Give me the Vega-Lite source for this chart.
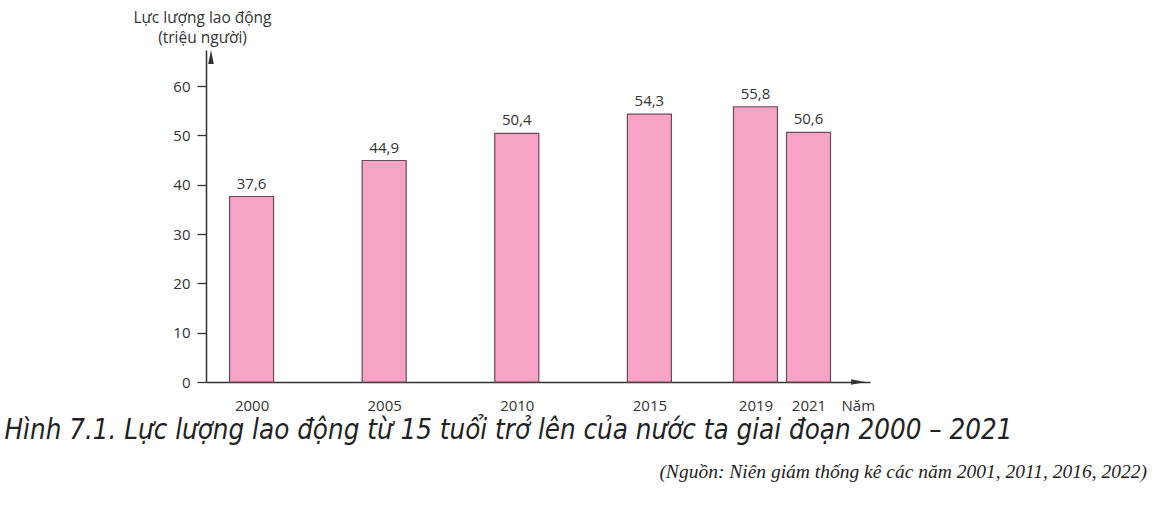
{
  "$schema": "https://vega.github.io/schema/vega-lite/v6.json",
  "width": 664,
  "height": 332,
  "autosize": {"type": "none"},
  "padding": {"left": 206, "top": 50, "right": 289, "bottom": 127},
  "background": "white",
  "config": {
    "view": {"stroke": null},
    "locale": {"number": {"decimal": ",", "thousands": ".", "grouping": [3], "currency": ["", " ₫"]}}
  },
  "title": {
    "text": "(Nguồn: Niên giám thống kê các năm 2001, 2011, 2016, 2022)",
    "orient": "bottom",
    "anchor": "end",
    "frame": "group",
    "dx": 277,
    "offset": 34,
    "baseline": "alphabetic",
    "font": "Liberation Serif",
    "fontStyle": "italic",
    "fontWeight": "normal",
    "fontSize": 19.5,
    "color": "#222222"
  },
  "data": {"values": [
    {"year": 2000, "value": 37.6},
    {"year": 2005, "value": 44.9},
    {"year": 2010, "value": 50.4},
    {"year": 2015, "value": 54.3},
    {"year": 2019, "value": 55.8},
    {"year": 2021, "value": 50.6}
  ]},
  "resolve": {"axis": {"x": "independent", "y": "independent"}},
  "layer": [
    {
      "mark": {"type": "bar", "width": 44, "fill": "#f7a3c6", "stroke": "#6b4a57", "strokeWidth": 1.2},
      "encoding": {
        "x": {
          "field": "year", "type": "quantitative",
          "scale": {"domain": [1998.47, 2023.13], "nice": false, "zero": false},
          "axis": {
            "orient": "bottom",
            "values": [2000, 2005, 2010, 2015, 2019, 2021],
            "format": "d",
            "ticks": false, "grid": false,
            "domain": true, "domainColor": "#333333", "domainWidth": 1.5,
            "labelPadding": 16, "labelFontSize": 15, "labelColor": "#333333", "labelFont": "Open Sans",
            "labelFlush": false, "labelOverlap": false,
            "title": "Năm", "titleX": 635, "titleY": 28, "titleAlign": "left", "titleBaseline": "alphabetic",
            "titleAngle": 0, "titleFont": "Open Sans", "titleFontWeight": "normal", "titleFontSize": 15, "titleColor": "#333333"
          }
        },
        "y": {
          "field": "value", "type": "quantitative",
          "scale": {"domain": [0, 67.3], "nice": false},
          "axis": {
            "orient": "left",
            "values": [0, 10, 20, 30, 40, 50, 60],
            "grid": false,
            "tickSize": 9, "tickColor": "#333333", "tickWidth": 1.3,
            "domainColor": "#333333", "domainWidth": 1.5,
            "labelPadding": 7, "labelFontSize": 15, "labelColor": "#333333", "labelFont": "Open Sans",
            "title": ["Lực lượng lao động", "(triệu người)"],
            "titleAngle": 0, "titleX": -4, "titleY": -28, "titleAlign": "center", "titleBaseline": "alphabetic",
            "titleFont": "Open Sans", "titleFontWeight": "normal", "titleFontSize": 15.5, "titleLineHeight": 20, "titleColor": "#333333"
          }
        }
      }
    },
    {
      "mark": {"type": "text", "dy": -8, "baseline": "alphabetic", "fontSize": 15, "font": "Open Sans", "color": "#333333"},
      "encoding": {
        "x": {
          "field": "year", "type": "quantitative",
          "scale": {"domain": [1998.47, 2023.13], "nice": false, "zero": false},
          "axis": {
            "orient": "bottom",
            "domain": false, "ticks": false, "labels": false, "grid": false,
            "title": "Hình 7.1. Lực lượng lao động từ 15 tuổi trở lên của nước ta giai đoạn 2000 – 2021",
            "titleX": -202, "titleY": 56, "titleAlign": "left", "titleBaseline": "alphabetic", "titleAngle": 0,
            "titleFont": "Liberation Sans Narrow, DejaVu Sans Condensed, sans-serif", "titleFontStyle": "italic",
            "titleFontWeight": "normal", "titleFontSize": 27.5, "titleColor": "#222222", "titleLimit": 1300
          }
        },
        "y": {
          "field": "value", "type": "quantitative",
          "scale": {"domain": [0, 67.3], "nice": false},
          "axis": null
        },
        "text": {"field": "value", "type": "quantitative", "format": ".1f"}
      }
    },
    {
      "data": {"values": [{}]},
      "mark": {"type": "point", "shape": "M-1,-0.4L1,0L-1,0.4Z", "filled": true, "color": "#333333", "opacity": 1, "size": 196},
      "encoding": {
        "x": {"datum": 2022.87, "type": "quantitative", "scale": {"domain": [1998.47, 2023.13], "nice": false, "zero": false}, "axis": null},
        "y": {"datum": 0, "type": "quantitative", "scale": {"domain": [0, 67.3], "nice": false}, "axis": null}
      }
    },
    {
      "data": {"values": [{}]},
      "mark": {"type": "point", "shape": "M0,-1L0.4,1L-0.4,1Z", "filled": true, "color": "#333333", "opacity": 1, "size": 196},
      "encoding": {
        "x": {"datum": 1998.47, "type": "quantitative", "scale": {"domain": [1998.47, 2023.13], "nice": false, "zero": false}, "axis": null},
        "y": {"datum": 65.88, "type": "quantitative", "scale": {"domain": [0, 67.3], "nice": false}, "axis": null}
      }
    }
  ]
}
